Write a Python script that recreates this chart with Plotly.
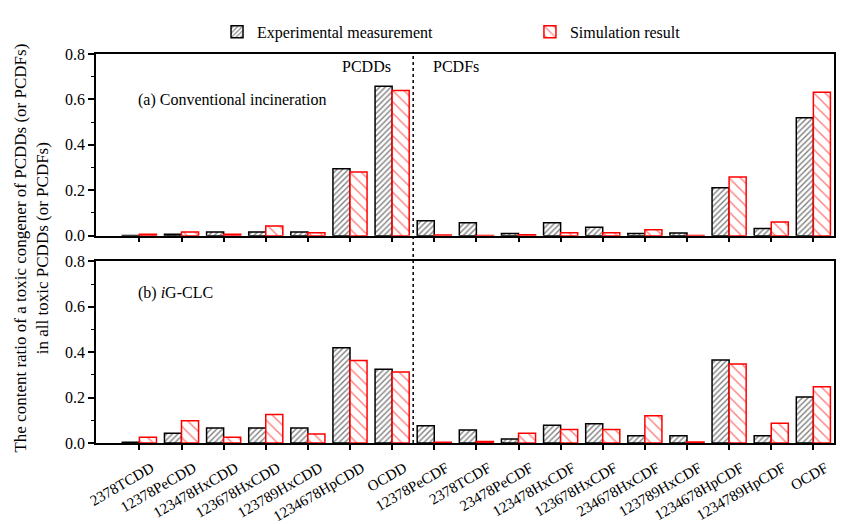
import plotly.graph_objects as go
from plotly.subplots import make_subplots

categories = ["2378TCDD", "12378PeCDD", "123478HxCDD", "123678HxCDD", "123789HxCDD",
              "1234678HpCDD", "OCDD", "12378PeCDF", "2378TCDF", "23478PeCDF",
              "123478HxCDF", "123678HxCDF", "234678HxCDF", "123789HxCDF",
              "1234678HpCDF", "1234789HpCDF", "OCDF"]

exp_a = [0.001, 0.006, 0.016, 0.016, 0.016, 0.295, 0.658,
         0.066, 0.057, 0.009, 0.057, 0.037, 0.010, 0.012, 0.211, 0.032, 0.519]
sim_a = [0.006, 0.016, 0.006, 0.043, 0.013, 0.280, 0.639,
         0.003, 0.001, 0.004, 0.013, 0.013, 0.026, 0.001, 0.258, 0.060, 0.632]
exp_b = [0.003, 0.043, 0.066, 0.066, 0.066, 0.420, 0.325,
         0.076, 0.057, 0.018, 0.078, 0.085, 0.032, 0.032, 0.366, 0.032, 0.203]
sim_b = [0.025, 0.098, 0.025, 0.126, 0.040, 0.363, 0.313,
         0.003, 0.007, 0.043, 0.060, 0.060, 0.120, 0.004, 0.348, 0.087, 0.248]

y_ticks = [0.0, 0.2, 0.4, 0.6, 0.8]

FONT = "Liberation Serif, Times New Roman, serif"
xpos = list(range(len(categories)))

fig = make_subplots(rows=2, cols=1, shared_xaxes=True, vertical_spacing=0.067)

exp_marker = dict(color="white", line=dict(color="black", width=1.5),
                  pattern=dict(shape="/", fgcolor="black", bgcolor="white", size=4, solidity=0.35))
sim_marker = dict(color="white", line=dict(color="red", width=1.5),
                  pattern=dict(shape="\\", fgcolor="red", bgcolor="white", size=8, solidity=0.18))

fig.add_trace(go.Bar(x=xpos, y=exp_a, name="Experimental measurement", marker=exp_marker,
                     legendgroup="e", legend="legend"), row=1, col=1)
fig.add_trace(go.Bar(x=xpos, y=sim_a, name="Simulation result", marker=sim_marker,
                     legendgroup="s", legend="legend2"), row=1, col=1)
fig.add_trace(go.Bar(x=xpos, y=exp_b, name="Experimental measurement", marker=exp_marker,
                     legendgroup="e", showlegend=False), row=2, col=1)
fig.add_trace(go.Bar(x=xpos, y=sim_b, name="Simulation result", marker=sim_marker,
                     legendgroup="s", showlegend=False), row=2, col=1)

xaxis_common = dict(range=[-1.03, 16.49], showline=True, linecolor="black", linewidth=1.5,
                    mirror=True, ticks="outside", ticklen=5, tickwidth=1.5, tickcolor="black",
                    tickvals=xpos, showgrid=False, zeroline=False)
yaxis_common = dict(range=[0, 0.8], showline=True, linecolor="black", linewidth=1.5,
                    mirror=True, ticks="outside", ticklen=6, tickwidth=1.5, tickcolor="black",
                    tickvals=y_ticks, tickformat=".1f", showgrid=False, zeroline=False,
                    minor=dict(ticks="outside", ticklen=3, tickwidth=1.2, tickcolor="black", dtick=0.1),
                    tickfont=dict(family=FONT, size=16, color="black"))

fig.update_xaxes(**xaxis_common, row=1, col=1, showticklabels=False)
fig.update_xaxes(**xaxis_common, row=2, col=1, ticktext=categories, tickangle=-30,
                 ticklabelshift=12, ticklabelstandoff=4,
                 tickfont=dict(family=FONT, size=15, color="black"))
fig.update_yaxes(**yaxis_common, row=1, col=1)
fig.update_yaxes(**yaxis_common, row=2, col=1)

fig.update_xaxes(domain=[0, 1])
fig.layout.yaxis.domain = [0.533, 1.0]
fig.layout.yaxis2.domain = [0.0, 0.467]

fig.add_shape(type="line", xref="x", yref="paper", x0=6.5, x1=6.5, y0=0, y1=1,
              line=dict(color="black", width=1.5, dash="dot"))

ann_font = dict(family=FONT, size=16, color="black")
fig.add_annotation(text="(a) Conventional incineration", xref="paper", yref="paper",
                   x=0.054, y=0.882, xanchor="left", yanchor="middle", showarrow=False, font=ann_font)
fig.add_annotation(text="PCDDs", xref="x", yref="paper", x=6.02, y=0.969,
                   xanchor="right", yanchor="middle", showarrow=False, font=ann_font)
fig.add_annotation(text="PCDFs", xref="x", yref="paper", x=6.93, y=0.969,
                   xanchor="left", yanchor="middle", showarrow=False, font=ann_font)
fig.add_annotation(text="(b) <i>i</i>G-CLC", xref="paper", yref="paper",
                   x=0.054, y=0.386, xanchor="left", yanchor="middle", showarrow=False, font=ann_font)
fig.add_annotation(text="The content ratio of a toxic congener of PCDDs (or PCDFs)<br>in all toxic PCDDs (or PCDFs)",
                   xref="paper", yref="paper", x=-0.088, y=0.5, textangle=-90,
                   xanchor="center", yanchor="middle", showarrow=False,
                   font=dict(family=FONT, size=17, color="black"))

leg_common = dict(orientation="h", yanchor="middle", xanchor="left", y=1.057,
                  font=dict(family=FONT, size=16, color="black"), bgcolor="rgba(0,0,0,0)")

fig.update_layout(
    width=855, height=524,
    margin=dict(l=96, r=21, t=54, b=81, autoexpand=False),
    paper_bgcolor="white", plot_bgcolor="white",
    barmode="group", bargap=0.19, bargroupgap=0.0,
    font=dict(family=FONT, size=15, color="black"),
    legend=dict(**leg_common, x=0.164),
    legend2=dict(**leg_common, x=0.588),
)

fig.write_html("out.html", config={"displayModeBar": False},
               post_script="document.body.style.margin='0';")
